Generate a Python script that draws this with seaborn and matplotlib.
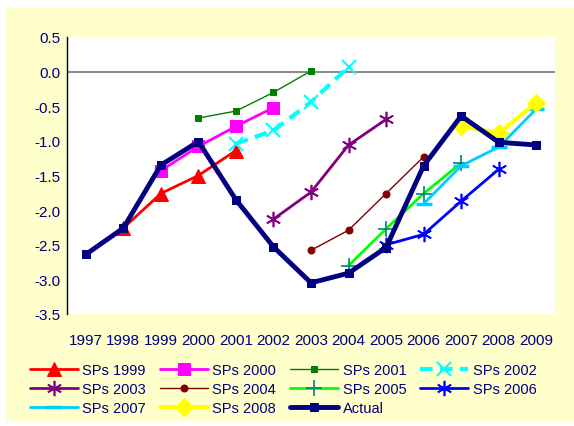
import matplotlib
matplotlib.use("Agg")
import matplotlib.pyplot as plt
import matplotlib.patches as mpatches
import seaborn as sns
import pandas as pd

sns.set_theme(style="white")
plt.rcParams["font.family"] = ["Liberation Sans", "DejaVu Sans"]

# Output gap projections per Stability Programme vintage, plus outturn
years = list(range(1997, 2010))

sps_1999 = {"years": [1998, 1999, 2000, 2001], "values": [-2.26, -1.76, -1.50, -1.14]}
sps_2000 = {"years": [1999, 2000, 2001, 2002], "values": [-1.43, -1.08, -0.79, -0.52]}
sps_2001 = {"years": [2000, 2001, 2002, 2003], "values": [-0.67, -0.57, -0.30, 0.01]}
sps_2002 = {"years": [2001, 2002, 2003, 2004], "values": [-1.04, -0.85, -0.44, 0.07]}
sps_2003 = {"years": [2002, 2003, 2004, 2005], "values": [-2.13, -1.74, -1.06, -0.69]}
sps_2004 = {"years": [2003, 2004, 2005, 2006], "values": [-2.58, -2.29, -1.76, -1.23]}
sps_2005 = {"years": [2004, 2005, 2006, 2007], "values": [-2.80, -2.27, -1.76, -1.32]}
sps_2006 = {"years": [2005, 2006, 2007, 2008], "values": [-2.50, -2.35, -1.87, -1.41]}
sps_2007 = {"years": [2006, 2007, 2008, 2009], "values": [-1.91, -1.36, -1.09, -0.54]}
sps_2008 = {"years": [2007, 2008, 2009], "values": [-0.79, -0.89, -0.45]}
actual = {"years": years,
          "values": [-2.64, -2.26, -1.35, -1.01, -1.85, -2.53, -3.05,
                     -2.91, -2.54, -1.36, -0.64, -1.02, -1.06]}

asterisk = (6, 2, 0)
series = [
    ("SPs 1999", sps_1999, dict(color="#FF0000", marker="^", ms=10, lw=2)),
    ("SPs 2000", sps_2000, dict(color="#FF00FF", marker="s", ms=9, lw=2)),
    ("SPs 2001", sps_2001, dict(color="#008000", marker="s", ms=5, lw=1)),
    ("SPs 2002", sps_2002, dict(color="#00FFFF", marker="x", ms=10, mew=1.5, lw=3,
                                dashes=(3, 1.8))),
    ("SPs 2003", sps_2003, dict(color="#800080", marker=asterisk, ms=11, mew=1.2, lw=2)),
    ("SPs 2004", sps_2004, dict(color="#800000", marker="o", ms=5, lw=1)),
    ("SPs 2005", sps_2005, dict(color="#00FF00", marker="+", ms=11, mew=1.2,
                                mec="#008080", lw=2)),
    ("SPs 2006", sps_2006, dict(color="#0000FF", marker=asterisk, ms=11, mew=1.2, lw=2)),
    ("SPs 2007", sps_2007, dict(color="#00CCFF", marker="_", ms=11, mew=2.5, lw=2)),
    ("SPs 2008", sps_2008, dict(color="#FFFF00", marker="D", ms=9, lw=3)),
    ("Actual", actual, dict(color="#000080", marker="s", ms=6, lw=3.5)),
]

fig = plt.figure(figsize=(5.74, 4.27), dpi=100, facecolor="white")
fig.patches.append(mpatches.Rectangle((6 / 574, 1 - 422 / 427), 1, 414 / 427,
                                      transform=fig.transFigure, facecolor="#FFFFCC",
                                      edgecolor="none", zorder=-1))
ax = fig.add_axes([67 / 574, 1 - 315 / 427, 488 / 574, 277 / 427])
ax.set_facecolor("white")

ax.axhline(0, color="#808080", lw=1.3, zorder=1)

for label, s, style in series:
    df = pd.DataFrame({"year": s["years"], "value": s["values"]})
    sns.lineplot(data=df, x="year", y="value", ax=ax, label=label,
                 markeredgecolor=style.pop("mec", style["color"]), **style)

ax.set_xlim(1996.5, 2009.5)
ax.set_ylim(-3.5, 0.5)
yticks = [0.5, 0.0, -0.5, -1.0, -1.5, -2.0, -2.5, -3.0, -3.5]
ax.set_yticks(yticks)
ax.set_yticklabels([f"{v:.1f}" for v in yticks])
ax.set_xticks(years)
ax.set_xticklabels([str(y) for y in years])
ax.tick_params(axis="y", length=0, pad=5, labelsize=11, labelcolor="#000080")
ax.tick_params(axis="x", length=0, pad=14, labelsize=11, labelcolor="#000080")
ax.set_xlabel("")
ax.set_ylabel("")
for side in ["top", "right", "bottom"]:
    ax.spines[side].set_visible(False)
ax.spines["left"].set_color("black")
ax.spines["left"].set_linewidth(1)

# legend is filled row by row in the reference, matplotlib fills by column
h, l = ax.get_legend_handles_labels()
order = [0, 4, 8, 1, 5, 9, 2, 6, 10, 3, 7]
ax.legend([h[i] for i in order], [l[i] for i in order], ncol=4, frameon=False,
          loc="upper left", bbox_to_anchor=(24 / 574, 1 - 358 / 427),
          bbox_transform=fig.transFigure, fontsize=10.5, handlelength=3.3,
          handletextpad=0.3, columnspacing=0.95, labelspacing=0.35,
          labelcolor="#000080", borderaxespad=0)

fig.savefig("out.png", dpi=100, facecolor=fig.get_facecolor())
